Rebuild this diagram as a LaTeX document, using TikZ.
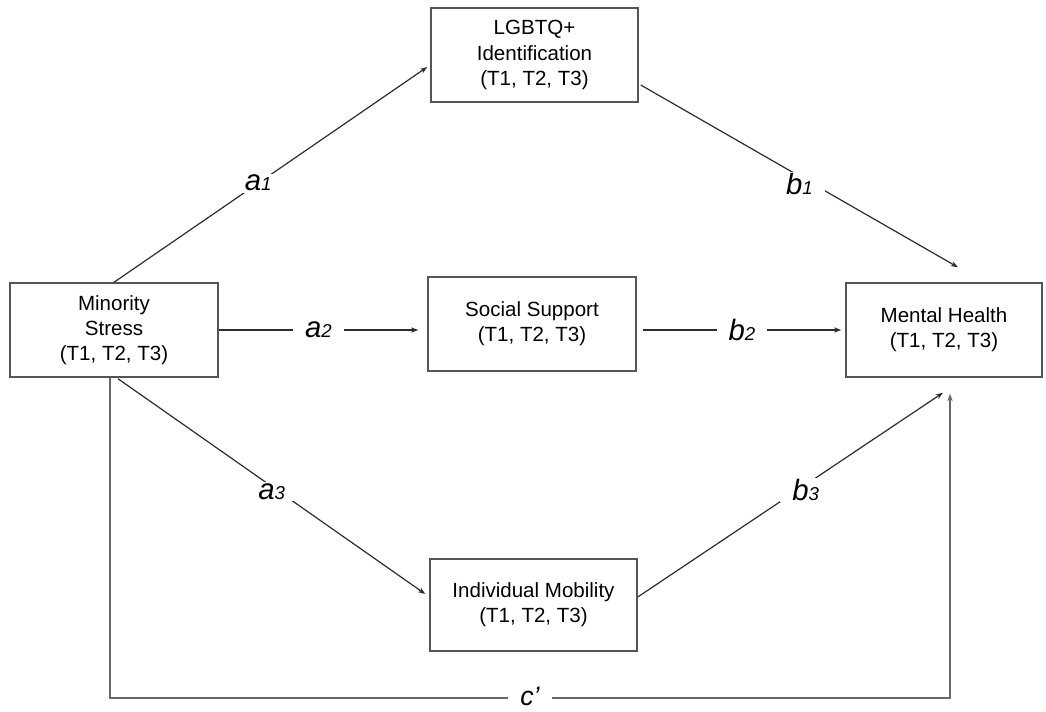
\documentclass[tikz,border=0pt]{standalone}
\usepackage{fontspec}
\setmainfont{Liberation Sans}
\usetikzlibrary{arrows.meta,calc}
\definecolor{boxline}{RGB}{85,85,85}
\definecolor{conline}{RGB}{45,45,45}
\definecolor{cline}{RGB}{105,105,105}
\newcommand{\lbl}[2]{{\fontsize{22}{22}\selectfont\itshape #1{\fontsize{14}{14}\selectfont #2}}}
\begin{document}
\begin{tikzpicture}[x=0.75pt,y=-0.75pt,
  varbox/.style={draw=boxline,line width=1.1pt,rectangle,inner sep=0pt,align=center,
    font=\fontsize{15.4}{18.8}\selectfont},
  arr/.style={draw=conline,line width=0.9pt,-{Stealth[length=5.5pt,width=4pt]}},
  cpath/.style={draw=cline,line width=1.4pt,-{Stealth[length=5.5pt,width=4pt]}},
  lab/.style={fill=white,inner xsep=9pt,inner ysep=1pt}]
\useasboundingbox (0,0) rectangle (1046,711);
\fill[white] (0,0) rectangle (1046,711);

\node[varbox,minimum width=156pt,minimum height=70.5pt] (ms) at (114,330) {Minority\\Stress\\(T1, T2, T3)};
\node[varbox,minimum width=155.25pt,minimum height=70.5pt] (lg) at (534.5,55) {LGBTQ+\\Identification\\(T1, T2, T3)};
\node[varbox,minimum width=156pt,minimum height=70.5pt] (ss) at (532,324) {Social Support\\(T1, T2, T3)};
\node[varbox,minimum width=147pt,minimum height=70.5pt] (mh) at (944,330) {Mental Health\\(T1, T2, T3)};
\node[varbox,minimum width=155.25pt,minimum height=69pt] (im) at (533.5,605) {Individual Mobility\\(T1, T2, T3)};

% endpoints
\coordinate (a1s) at (ms.north);
\coordinate (a1e) at ([shift={(-3,12)}]lg.west);
\coordinate (b1s) at ([shift={(2,30)}]lg.east);
\coordinate (b1e) at ([shift={(14,-15)}]mh.north);
\coordinate (a2s) at (ms.east);
\coordinate (a2e) at ([shift={(-9,6)}]ss.west);
\coordinate (b2s) at ([shift={(6,6)}]ss.east);
\coordinate (b2e) at ([shift={(-4,0)}]mh.west);
\coordinate (a3s) at ([shift={(4,1)}]ms.south);
\coordinate (a3e) at ([shift={(-4,-11)}]im.west);
\coordinate (b3s) at ([shift={(0,-8)}]im.east);
\coordinate (b3e) at ([shift={(-1,15)}]mh.south);
\coordinate (cs) at ([shift={(-4,0)}]ms.south);
\coordinate (cl) at (110,698);
\coordinate (cr) at (950,698);
\coordinate (ce) at ([shift={(6,16)}]mh.south);

\draw[arr] (a1s) -- node[lab,pos=0.46] {\lbl{a}{1}} (a1e);
\draw[arr] (b1s) -- node[lab,pos=0.5,yshift=-6pt] {\lbl{b}{1}} (b1e);
\draw[arr] (a2s) -- node[lab,pos=0.5] {\lbl{a}{2}} (a2e);
\draw[arr] (b2s) -- node[lab,pos=0.5] {\lbl{b}{2}} (b2e);
\draw[arr] (a3s) -- node[lab,pos=0.5,yshift=-4pt] {\lbl{a}{3}} (a3e);
\draw[arr] (b3s) -- node[lab,pos=0.55,yshift=-4pt] {\lbl{b}{3}} (b3e);
\draw[cpath] (cs) -- (cl) -- node[lab,inner ysep=0pt,pos=0.5,yshift=1.5pt] {{\fontsize{20}{20}\selectfont\itshape c’}} (cr) -- (ce);
\end{tikzpicture}
\end{document}
